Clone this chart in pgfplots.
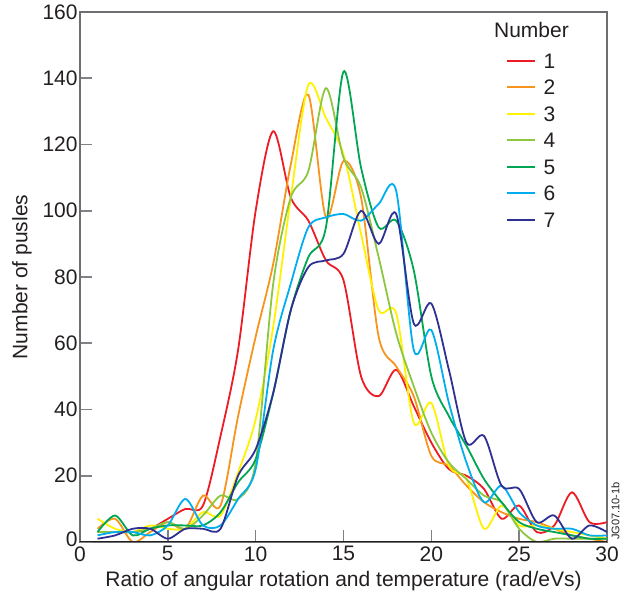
\documentclass[border=0pt]{standalone}
\usepackage{fontspec}
\setmainfont{Liberation Sans}
\usepackage{pgfplots}
\usepackage{pgfplotstable}
\pgfplotsset{compat=1.18}
\definecolor{cRed}{HTML}{ED1C24}
\definecolor{cOrange}{HTML}{F7941D}
\definecolor{cYellow}{HTML}{FFF200}
\definecolor{cLGreen}{HTML}{8DC63F}
\definecolor{cDGreen}{HTML}{00A651}
\definecolor{cLBlue}{HTML}{00AEEF}
\definecolor{cDBlue}{HTML}{2E3192}
\definecolor{inkD}{HTML}{231F20}
\definecolor{frameG}{HTML}{6D6E71}
\definecolor{tickG}{HTML}{808285}

% counts per ratio bin, one column per number
\pgfplotstableread{
x  s1  s2  s3  s4  s5  s6  s7
1  3   4   7   3   3   2   1
2  3   7   4   3   8   3   2
3  3   0   3   3   2   3   4
4  4   3   5   4   4   2   4
5  7   6   4   6   5   5   1
6  10  4   4   4   5   13  4
7  11  14  9   8   5   5   4
8  32  11  8   14  9   5   4
9  58  38  21  13  18  13  20
10 100 62  37  24  25  22  28
11 124 84  65  78  45  58  45
12 104 114 104 104 70  78  70
13 97  135 138 112 86  95  83
14 85  98  128 137 95  98  85
15 79  115 117 116 142 99  87
16 50  104 93  107 113 97  100
17 44  62  70  86  95  102 90
18 52  53  69  63  97  106 99
19 41  44  36  47  82  58  66
20 30  26  42  33  50  64  72
21 22  23  23  24  38  42  52
22 20  17  19  19  29  24  30
23 16  12  4   14  19  12  32
24 7   9   11  12  12  17  17
25 11  7   5   4   6   9   16
26 3   6   5   0   4   5   6
27 5   4   4   1   3   4   8
28 15  2   3   1   2   4   1
29 6   1   2   1   1   2   5
30 6   0   1   1   1   2   3
}\pulses

\begin{document}
\begin{tikzpicture}
\begin{axis}[
    name=ax,
    scale only axis, width=263.5pt, height=265pt,
    xmin=0, xmax=30, ymin=0, ymax=160,
    xtick={0,5,...,30}, ytick={20,40,...,160},
    extra y ticks={0},
    extra y tick style={yticklabel style={yshift=1.5pt}},
    tick pos=left, tick align=inside, major tick length=6pt,
    tick style={color=tickG, line width=0.8pt},
    axis line style={draw=frameG, line width=0.6pt},
    ticklabel style={font=\fontsize{10.5}{12}\selectfont, color=inkD},
    yticklabel style={inner sep=1pt},
    xticklabel style={inner sep=1pt, yshift=-1pt},
    /pgf/number format/assume math mode=true,
    xlabel={Ratio of angular rotation and temperature (rad/eVs)},
    ylabel={Number of pusles},
    label style={font=\fontsize{10.5}{12}\selectfont, color=inkD},
    xlabel style={at={(rel axis cs:0.5,0)}, anchor=center, yshift=-19.5pt},
    ylabel style={at={(rel axis cs:0,0.5)}, anchor=center, yshift=29pt},
    every axis plot/.append style={smooth, line width=0.9pt, no markers},
    legend style={at={(axis cs:24.2,148.3)}, anchor=north west, draw=none,
      fill=none, inner sep=0pt, row sep=3.75pt,
      font=\fontsize{10.5}{12}\selectfont, text=inkD,
      nodes={inner sep=1pt, text height=7.5pt, text depth=0pt},
      /tikz/every odd column/.style={column sep=3pt}},
    legend cell align=left,
    legend image code/.code={\draw[#1, line width=1pt] (0pt,0pt) -- (14pt,0pt);},
]
\addplot[cRed]    table[x=x, y=s1] {\pulses}; \addlegendentry{1}
\addplot[cOrange] table[x=x, y=s2] {\pulses}; \addlegendentry{2}
\addplot[cYellow] table[x=x, y=s3] {\pulses}; \addlegendentry{3}
\addplot[cLGreen] table[x=x, y=s4] {\pulses}; \addlegendentry{4}
\addplot[cDGreen] table[x=x, y=s5] {\pulses}; \addlegendentry{5}
\addplot[cLBlue]  table[x=x, y=s6] {\pulses}; \addlegendentry{6}
\addplot[cDBlue]  table[x=x, y=s7] {\pulses}; \addlegendentry{7}
\draw[inkD, line width=0.9pt] (rel axis cs:0,0) -- (rel axis cs:1,0);
\node[anchor=west, inner sep=0pt, font=\fontsize{10.5}{12}\selectfont, text=inkD]
  at (axis cs:23.55,154.5) {Number};
\end{axis}
\node[anchor=north west, rotate=90, inner sep=0pt,
  font=\fontsize{5.5}{6}\selectfont, text=inkD]
  at ([xshift=2pt,yshift=1pt]ax.south east) {JG07.10-1b};
\useasboundingbox ([xshift=-40pt,yshift=-28.5pt]ax.south west)
  rectangle ([xshift=12pt,yshift=6pt]ax.north east);
\end{tikzpicture}
\end{document}
